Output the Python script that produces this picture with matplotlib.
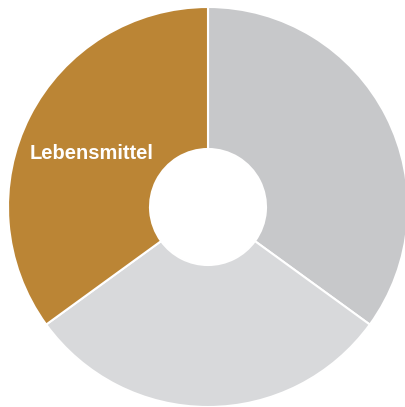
import matplotlib
matplotlib.use("Agg")
import matplotlib.pyplot as plt
from matplotlib import font_manager

# data, clockwise from the top
labels = ["", "", "Lebensmittel"]
values = [35, 30, 35]
colors = ["#c7c8ca", "#d8d9db", "#bb8535"]

names = {f.name for f in font_manager.fontManager.ttflist}
narrow = "Liberation Sans Narrow" in names
family = ["Liberation Sans Narrow", "DejaVu Sans"] if narrow else ["Liberation Sans", "DejaVu Sans"]
fsize = 16 if narrow else 14.5

fig = plt.figure(figsize=(4.05, 4.07), dpi=100)
ax = fig.add_axes([0, 0, 1, 1])

wedges, _ = ax.pie(values, colors=colors, startangle=90, counterclock=False,
                   radius=1.0,
                   wedgeprops=dict(width=0.71, edgecolor="white", linewidth=1.5))

ax.text(-0.58, 0.27, labels[2], ha="center", va="center", color="white",
        fontsize=fsize, fontweight="bold", family=family)

ax.set_xlim(-1.04, 0.985)
ax.set_ylim(-1.0, 1.035)
ax.set_aspect("equal", adjustable="datalim")
ax.axis("off")

plt.savefig("out.png", dpi=100)
plt.close()
